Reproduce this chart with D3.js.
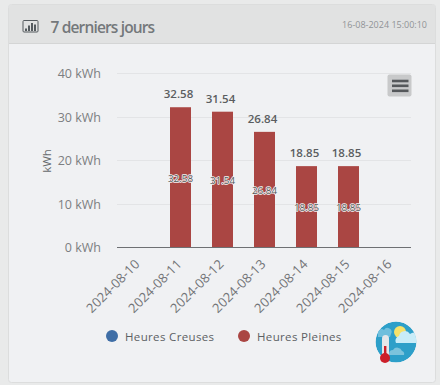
<!DOCTYPE html>
<html><head><meta charset="utf-8">
<script src="https://cdn.jsdelivr.net/npm/d3@7"></script>
<style>
html,body{margin:0;padding:0;background:#e9eaea;overflow:hidden}
svg{display:block}
text{font-family:"Open Sans",sans-serif}
</style></head><body>
<svg id="c" width="440" height="385"></svg>
<script>
const categories = ["2024-08-10","2024-08-11","2024-08-12","2024-08-13","2024-08-14","2024-08-15","2024-08-16"];
const heuresPleines = [null,32.58,31.54,26.84,18.85,18.85,null];
const yTicks = [0,10,20,30,40];
const legendNames = ["Heures Creuses","Heures Pleines"];
const legendColors = ["#3f6ea6","#aa4643"];
const titleText = "7 derniers jours";
const stampText = "16-08-2024 15:00:10";

const svg = d3.select("#c");
const defs = svg.append("defs");
defs.append("clipPath").attr("id","badge").append("circle").attr("cx",396).attr("cy",342).attr("r",20.5);
// card
svg.append("rect").attr("x",8.5).attr("y",4.5).attr("width",427).attr("height",378).attr("rx",3)
  .attr("fill","#f0f1f3").attr("stroke","#dcdddd");
svg.append("path").attr("d","M9,43V7a2,2 0 0 1 2,-2H435V43Z").attr("fill","#e1e2e2");
svg.append("line").attr("x1",9).attr("x2",435).attr("y1",43.5).attr("y2",43.5).attr("stroke","#d4d5d5");
// header icon
svg.append("rect").attr("x",23).attr("y",20.5).attr("width",15).attr("height",11.5).attr("rx",1)
  .attr("fill","none").attr("stroke","#555b5f").attr("stroke-width",1);
[[25,28.5],[28,25.5],[31,23],[34,24.5]].forEach(b=>
  svg.append("rect").attr("x",b[0]).attr("y",b[1]).attr("width",2).attr("height",31-b[1]).attr("fill","#555b5f"));
svg.append("text").attr("x",50.5).attr("y",33).attr("font-size",15.5).attr("font-weight",600).attr("letter-spacing",-0.85).attr("fill","#74787b").text(titleText);
svg.append("text").attr("x",427).attr("y",28).attr("text-anchor","end").attr("font-size",9).attr("fill","#909396").text(stampText);

const x = d3.scaleBand().domain(categories).range([117.5,411.5]).paddingInner(0.5).paddingOuter(0.25);
const y = d3.scaleLinear().domain([0,40]).range([247,73]);
// the columns in the picture sit on a slightly shorter scale than the grid
const yBar = d3.scaleLinear().domain([0,40]).range([247,75.4]);

// grid
svg.append("g").selectAll("line").data(yTicks.filter(d=>d>0)).join("line")
  .attr("x1",117).attr("x2",411).attr("y1",d=>Math.round(y(d))+.5).attr("y2",d=>Math.round(y(d))+.5)
  .attr("stroke","#e3e4e6");

// y axis
const ya = svg.append("g").attr("transform","translate(101,0)")
  .call(d3.axisLeft(y).tickValues(yTicks).tickSize(0).tickPadding(0).tickFormat(d=>d+" kWh"));
ya.select(".domain").remove();
ya.selectAll("text").attr("font-size",12.5).attr("fill","#7c7e81").attr("font-family",'"Open Sans",sans-serif').attr("dy","0.36em");
svg.append("text").attr("transform","translate(50.5,161) rotate(-90)").attr("text-anchor","middle")
  .attr("font-size",11.5).attr("fill","#66696c").text("kWh");

// bars
const valid = categories.map((c,i)=>({c,v:heuresPleines[i]})).filter(d=>d.v!==null);
svg.append("g").selectAll("rect").data(valid).join("rect")
  .attr("x",d=>x(d.c)).attr("width",x.bandwidth()).attr("y",d=>yBar(d.v)).attr("height",d=>yBar(0)-yBar(d.v)).attr("fill",legendColors[1]);

// x axis
const xa = svg.append("g").attr("transform","translate(0,247)")
  .call(d3.axisBottom(x).tickSize(0).tickPadding(0));
xa.select(".domain").attr("stroke","#6e7073").attr("stroke-width",1).attr("d","M117,0.5H411");
xa.selectAll("text").attr("font-size",13).attr("letter-spacing",0.1).attr("fill","#727477").attr("font-family",'"Open Sans",sans-serif')
  .attr("text-anchor","end").attr("dy",0).attr("y",0).attr("x",0)
  .attr("transform","translate(2,18) rotate(-45)");

// value labels
svg.append("g").selectAll("text").data(valid).join("text")
  .attr("x",d=>x(d.c)+x.bandwidth()/2-2).attr("y",d=>yBar(d.v)-9).attr("text-anchor","middle")
  .attr("font-size",11.5).attr("font-weight",600).attr("fill","#5a5d60").text(d=>d.v.toFixed(2));
svg.append("g").selectAll("text").data(valid).join("text")
  .attr("x",d=>x(d.c)+x.bandwidth()/2).attr("y",d=>(yBar(d.v)+yBar(0))/2+4.5).attr("text-anchor","middle")
  .attr("font-size",9.8).attr("fill","#55585b")
  .attr("stroke","#f4f4f4").attr("stroke-width",1.5).attr("paint-order","stroke").attr("stroke-linejoin","round")
  .text(d=>d.v.toFixed(2));

// menu button
svg.append("rect").attr("x",387.5).attr("y",74.5).attr("width",24).attr("height",22).attr("rx",2).attr("fill","#c8c9ca");
[81,85.8,90.8].forEach(v=>svg.append("line").attr("x1",392).attr("x2",408.5).attr("y1",v).attr("y2",v).attr("stroke","#55585b").attr("stroke-width",2.6));

// legend
const lx = [112,244], tx = [125,257];
legendNames.forEach((n,i)=>{
  svg.append("circle").attr("cx",lx[i]).attr("cy",336).attr("r",6).attr("fill",legendColors[i]);
  svg.append("text").attr("x",tx[i]).attr("y",341).attr("font-size",11.5).attr("letter-spacing",.35).attr("fill","#5c5f63").text(n);
});

// weather badge
const w = svg.append("g").attr("clip-path","url(#badge)");
w.append("circle").attr("cx",396).attr("cy",342).attr("r",20.5).attr("fill","#2d9fc9");
w.append("circle").attr("cx",400).attr("cy",332).attr("r",6).attr("fill","#f6e26a");
w.append("path").attr("d","M396,343a5,5 0 0 1 3,-7a6,6 0 0 1 11,-2a5,5 0 0 1 8,9Z").attr("fill","#c8ecf8");
w.append("path").attr("d","M378,335a4,4 0 0 1 6,-5a4,4 0 0 1 7,4l-1,3h-12Z").attr("fill","#6fbfdd");
w.append("path").attr("d","M389,354a4,4 0 0 1 4,-4a5,5 0 0 1 9,1a3,3 0 0 1 2,4h-15Z").attr("fill","#7cc3dc");
const t = svg.append("g");
t.append("rect").attr("x",382).attr("y",335).attr("width",7).attr("height",24).attr("rx",3.5).attr("fill","#e4e7ea");
t.append("rect").attr("x",384).attr("y",346).attr("width",2.4).attr("height",12).attr("fill","#cc1f2a");
t.append("circle").attr("cx",385).attr("cy",358).attr("r",5).attr("fill","#cc1f2a");
</script>
</body></html>
